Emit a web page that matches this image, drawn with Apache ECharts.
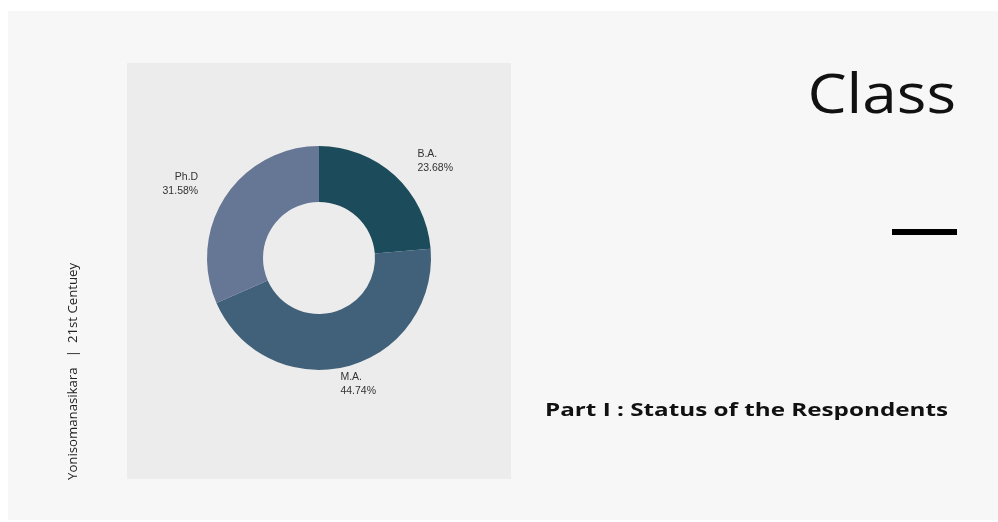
<!DOCTYPE html>
<html>
<head>
<meta charset="utf-8">
<script src="https://cdn.jsdelivr.net/npm/echarts@6/dist/echarts.min.js"></script>
<style>
html,body{margin:0;padding:0;background:#ffffff;}
#chart{width:998px;height:522px;}
</style>
</head>
<body>
<div id="chart"></div>
<script>
var categories = ['B.A.', 'M.A.', 'Ph.D'];
var values = [9, 17, 12];
var percentLabels = ['23.68%', '44.74%', '31.58%'];
var colors = ['#1c4c5b', '#406179', '#667695'];
var labelLengths = [20, 16, 24];
var labelShiftX = [4, -15, -2];

var chart = echarts.init(document.getElementById('chart'), null, {renderer: 'canvas'});
var data = categories.map(function (c, i) {
  return {
    name: c,
    value: values[i],
    itemStyle: {color: colors[i]},
    labelLine: {show: false, length: labelLengths[i], length2: 0}
  };
});

chart.setOption({
  animation: false,
  backgroundColor: '#ffffff',
  graphic: [
    {type: 'rect', z: -10, shape: {x: 8, y: 11, width: 990, height: 509}, style: {fill: '#f7f7f7'}},
    {type: 'rect', z: -9, shape: {x: 127, y: 63, width: 384, height: 416}, style: {fill: '#ececec'}},
    {type: 'text', x: 956, y: 70, scaleX: 1.13, style: {text: 'Class', font: '400 55px "Open Sans"', fill: '#111111', align: 'right', verticalAlign: 'top'}},
    {type: 'rect', shape: {x: 892, y: 229, width: 65, height: 6}, style: {fill: '#000000'}},
    {type: 'text', x: 545, y: 411, scaleX: 1.31, style: {text: 'Part I : Status of the Respondents', font: '700 18.5px "Open Sans"', fill: '#111111', align: 'left', verticalAlign: 'middle'}},
    {type: 'text', x: 74, y: 480, rotation: Math.PI / 2, scaleX: 1.1, style: {text: 'Yonisomanasikara   |  21st Centuey', font: '400 12px "Open Sans"', fill: '#222222', align: 'left', verticalAlign: 'middle'}}
  ],
  series: [{
    type: 'pie',
    center: [319, 258],
    radius: [56, 112],
    startAngle: 90,
    clockwise: true,
    silent: true,
    itemStyle: {borderWidth: 0},
    label: {
      show: true,
      position: 'outside',
      formatter: function (p) { return p.name + '\n' + percentLabels[p.dataIndex]; },
      fontFamily: '"Liberation Sans", Arial, sans-serif',
      fontSize: 10.5,
      lineHeight: 14,
      color: '#333333'
    },
    labelLine: {show: false, length: 20, length2: 0},
    labelLayout: function (params) {
      return {dx: labelShiftX[params.dataIndex], dy: params.dataIndex === 1 ? 2 : 0};
    },
    data: data
  }]
});
</script>
</body>
</html>
